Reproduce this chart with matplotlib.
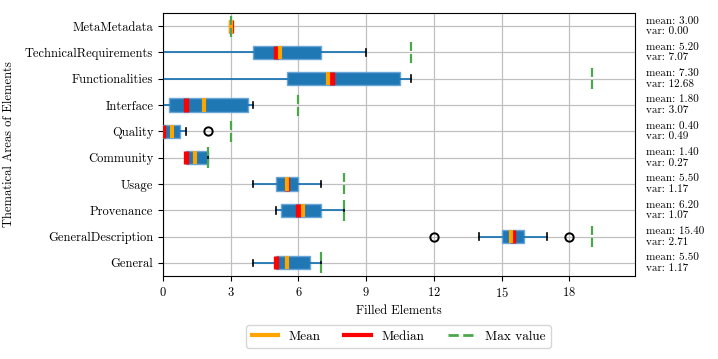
import matplotlib
matplotlib.use("Agg")
import matplotlib.pyplot as plt
from matplotlib.lines import Line2D

plt.rcParams["font.family"] = "serif"
plt.rcParams["font.serif"] = ["cmr10", "DejaVu Serif"]
plt.rcParams["mathtext.fontset"] = "cm"
plt.rcParams["axes.formatter.use_mathtext"] = True

# bottom-to-top order
categories = ["General", "GeneralDescription", "Provenance", "Usage", "Community",
              "Quality", "Interface", "Functionalities", "TechnicalRequirements", "MetaMetadata"]
whislo = [4, 14, 5, 4, 1, 0, 0, 0, 0, 3]
q1 = [5, 15, 5.25, 5, 1, 0, 0.25, 5.5, 4, 3]
medians = [5, 15.5, 6, 5.5, 1, 0, 1, 7.5, 5, 3]
q3 = [6.5, 16, 7, 6, 2, 0.75, 3.75, 10.5, 7, 3]
whishi = [7, 17, 8, 7, 2, 1, 4, 11, 9, 3]
fliers = [[], [12, 18], [], [], [], [2], [], [], [], []]
means = [5.5, 15.4, 6.2, 5.5, 1.4, 0.4, 1.8, 7.3, 5.2, 3.0]
variances = [1.17, 2.71, 1.07, 1.17, 0.27, 0.49, 3.07, 12.68, 7.07, 0.00]
max_values = [7, 19, 8, 8, 2, 3, 6, 19, 11, 3]
x_ticks = [0, 3, 6, 9, 12, 15, 18]

stats = []
for i, name in enumerate(categories):
    stats.append(dict(label=name, whislo=whislo[i], q1=q1[i], med=medians[i], q3=q3[i],
                      whishi=whishi[i], fliers=fliers[i], mean=means[i]))

fig = plt.figure(figsize=(7.18, 3.59), dpi=100)
ax = fig.add_axes([0.227, 0.231, 0.657, 0.733])

positions = list(range(1, len(categories) + 1))
ax.bxp(
    stats,
    positions=positions,
    vert=False,
    widths=0.5,
    patch_artist=True,
    showmeans=True,
    meanline=True,
    boxprops=dict(facecolor="#1f77b4", edgecolor="#6aa5d8", linewidth=1),
    whiskerprops=dict(color="#1f77b4", linewidth=1.3),
    capprops=dict(color="black", linewidth=1.2),
    medianprops=dict(color="red", linewidth=3.8),
    meanprops=dict(color="orange", linestyle="-", linewidth=3),
    flierprops=dict(marker="o", markerfacecolor="none", markeredgecolor="black",
                    markersize=6, markeredgewidth=1.4),
    zorder=3,
)

lw_max = 1.6
ax.vlines(max_values, [p - 0.4 for p in positions], [p + 0.4 for p in positions],
          colors="#4aa84a", linewidth=lw_max, linestyles=[(0, (6.5 / lw_max, 2.2 / lw_max))],
          zorder=4)

for p, m, v in zip(positions, means, variances):
    ax.text(1.024, p, f"mean: {m:.2f}\nvar: {v:.2f}", transform=ax.get_yaxis_transform(),
            ha="left", va="center", fontsize=8, linespacing=1.15)

ax.set_xlim(0, 20.9)
ax.set_ylim(0.5, 10.5)
ax.set_xticks(x_ticks)
ax.set_yticks(positions)
ax.set_yticklabels(categories, fontsize=9)
ax.tick_params(axis="x", labelsize=9)
ax.grid(True, color="#c0c0c0", linewidth=0.9, zorder=0)
ax.set_axisbelow(True)
ax.set_xlabel("Filled Elements", fontsize=9)
ax.set_ylabel("Thematical Areas of Elements", fontsize=9)
ax.yaxis.set_label_coords(-0.314, 0.5)

handles = [
    Line2D([], [], color="orange", linewidth=3, label="Mean"),
    Line2D([], [], color="red", linewidth=3, label="Median"),
    Line2D([], [], color="#4aa84a", linewidth=2, linestyle="--", label="Max value"),
]
fig.legend(handles=handles, loc="center", bbox_to_anchor=(0.555, 0.063), ncol=3,
           fontsize=9.5, columnspacing=1.8, handlelength=2.0)

fig.savefig("out.png", dpi=100)
